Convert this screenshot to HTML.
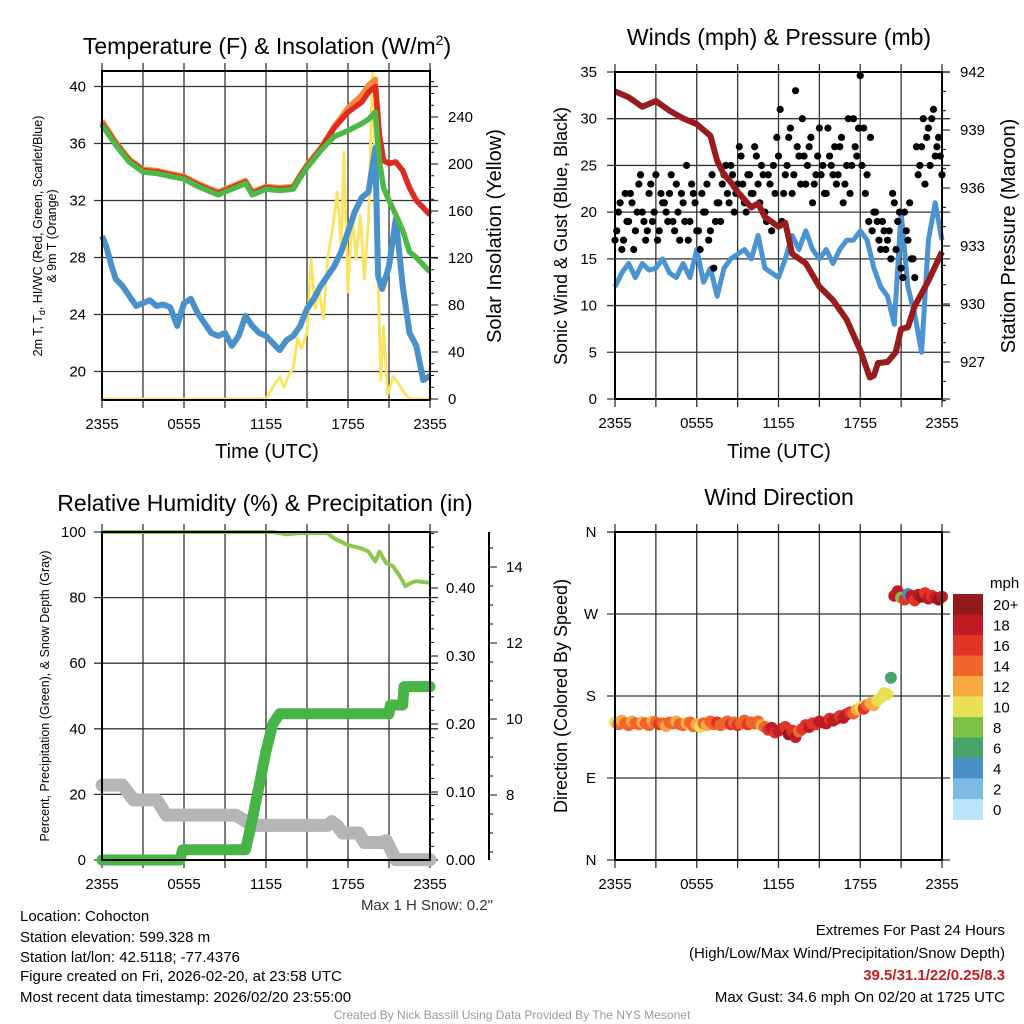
<!DOCTYPE html>
<html><head><meta charset="utf-8"><style>
html,body{margin:0;padding:0;background:#fff;}
svg{display:block;font-family:"Liberation Sans",sans-serif;}
</style></head><body>
<svg id="chart" width="1024" height="1024" viewBox="0 0 1024 1024" xmlns="http://www.w3.org/2000/svg">
<rect x="0" y="0" width="1024" height="1024" fill="#fff"/>
<text x="267" y="54" font-size="23" text-anchor="middle">Temperature (F) &amp; Insolation (W/m<tspan font-size="14" dy="-9">2</tspan><tspan dy="9">)</tspan></text>
<text x="779" y="45" font-size="23" text-anchor="middle">Winds (mph) &amp; Pressure (mb)</text>
<text x="265" y="511" font-size="23" text-anchor="middle">Relative Humidity (%) &amp; Precipitation (in)</text>
<text x="779" y="505" font-size="23" text-anchor="middle">Wind Direction</text>
<text transform="translate(42,236) rotate(-90)" font-size="12.5" text-anchor="middle">2m T, T<tspan font-size="9" dy="3">d</tspan><tspan dy="-3">, HI/WC (Red, Green, Scarlet/Blue)</tspan></text>
<text transform="translate(56,236) rotate(-90)" font-size="12.5" text-anchor="middle">&amp; 9m T (Orange)</text>
<text transform="translate(501,236) rotate(-90)" font-size="20" text-anchor="middle">Solar Insolation (Yellow)</text>
<text x="267" y="458" font-size="20" text-anchor="middle">Time (UTC)</text>
<text transform="translate(567,236) rotate(-90)" font-size="18" text-anchor="middle">Sonic Wind &amp; Gust (Blue, Black)</text>
<text transform="translate(1015,236) rotate(-90)" font-size="20" text-anchor="middle">Station Pressure (Maroon)</text>
<text x="779" y="458" font-size="20" text-anchor="middle">Time (UTC)</text>
<text transform="translate(49,696) rotate(-90)" font-size="12.5" text-anchor="middle">Percent, Precipitation (Green), &amp; Snow Depth (Gray)</text>
<text transform="translate(567,696) rotate(-90)" font-size="18" text-anchor="middle">Direction (Colored By Speed)</text>
<g font-size="15">
<text x="20" y="921">Location: Cohocton</text>
<text x="20" y="942">Station elevation: 599.328 m</text>
<text x="20" y="962">Station lat/lon: 42.5118; -77.4376</text>
<text x="20" y="981">Figure created on Fri, 2026-02-20, at 23:58 UTC</text>
<text x="20" y="1002">Most recent data timestamp: 2026/02/20 23:55:00</text>
</g>
<text x="493" y="910" font-size="15" text-anchor="end" fill="#333">Max 1 H Snow: 0.2"</text>
<g font-size="15" text-anchor="end">
<text x="1005" y="935">Extremes For Past 24 Hours</text>
<text x="1005" y="958">(High/Low/Max Wind/Precipitation/Snow Depth)</text>
<text x="1005" y="980" fill="#c41e24" font-weight="bold">39.5/31.1/22/0.25/8.3</text>
<text x="1005" y="1002">Max Gust: 34.6 mph On 02/20 at 1725 UTC</text>
</g>
<text x="512" y="1019" font-size="12" text-anchor="middle" fill="#999">Created By Nick Bassill Using Data Provided By The NYS Mesonet</text>
<g id="layer"></g>
</svg>
<script>
var xTickLabels = ["2355","0555","1155","1755","2355"];
// Panel 1
var tempTimes = [0,1,1.5,2,3,4,5,6,7,8,8.5,9,10,10.5,11,12,13,14,14.5,15,16,17,18,19,19.5,20,20.3,20.6,21,21.5,22,22.5,23,24];
var tempRed   = [37.4,36.0,35.4,34.8,34.1,34.0,33.8,33.6,33.1,32.7,32.5,32.7,33.1,33.3,32.5,32.9,32.8,32.9,33.7,34.4,35.6,37.1,38.2,38.9,39.6,40.0,36.6,34.8,34.6,34.7,34.1,32.9,32.0,31.0];
var tempOrange= [37.6,36.1,35.5,34.9,34.2,34.1,33.9,33.7,33.2,32.8,32.6,32.8,33.2,33.4,32.6,33.0,32.9,33.0,33.8,34.5,35.7,37.2,38.5,39.4,40.1,40.5,36.6,34.8,34.6,34.7,34.1,32.9,32.0,31.0];
var tempGreen = [37.3,35.9,35.3,34.7,34.0,33.9,33.7,33.5,33.0,32.6,32.4,32.6,33.0,33.2,32.4,32.8,32.7,32.8,33.6,34.3,35.5,36.5,36.9,37.4,37.7,38.2,34.8,32.9,32.0,31.0,29.9,28.4,28.0,27.0];
var chillTimes = [0,0.3,0.7,1,1.5,2,2.5,3,3.5,4,4.5,5,5.5,6,6.5,7,7.5,8,8.5,9,9.5,10,10.5,11,11.5,12,12.5,13,13.5,14,14.5,15,15.5,16,16.5,17,17.5,18,18.5,19,19.5,20,20.2,20.5,21,21.5,22,22.5,23,23.5,24];
var chillBlue  = [29.5,28.8,27.4,26.5,26.0,25.3,24.6,24.8,25.0,24.6,24.7,24.5,23.2,24.8,25.1,24.1,23.4,22.7,22.5,22.7,21.8,22.5,23.9,23.2,22.7,22.5,22.0,21.5,22.2,22.5,23.2,24.4,25.1,26.0,26.7,27.4,28.4,29.8,31.2,32.2,32.6,35.7,26.7,25.8,27.4,30.7,26.0,22.7,21.8,19.4,19.7];
var solarTimes = [0,12,12.5,13,13.3,13.7,14,14.3,14.6,15,15.3,15.6,15.9,16.2,16.5,16.9,17.2,17.5,17.7,18,18.3,18.6,18.9,19.2,19.5,19.8,20.1,20.4,20.6,20.9,21.3,21.7,22.2,22.5,24];
var solarVals  = [0,0,10,19,10,21,26,52,43,57,119,77,91,68,119,147,176,130,210,91,159,119,156,102,153,278,147,16,62,4,19,13,4,0,0];
var tempTicks = [20,24,28,32,36,40];
var solarTicks = [0,40,80,120,160,200,240];
// Panel 2
var windTimes = [0,0.5,1,1.5,2,2.5,3,3.5,4,4.5,5,5.5,6,6.5,7,7.5,8,8.5,9,9.5,10,10.5,11,11.5,12,12.5,13,13.5,14,14.5,15,15.5,16,16.5,17,17.5,18,18.5,19,19.5,20,20.5,21,21.5,22,22.5,23,23.5,24];
var windSpeed = [12,13.5,14.5,13,14.5,13.8,14,15,13.5,13,14.5,13,16,12.5,14,11,14,15,15.5,16,15,17.5,14,13.5,13,15,17.5,16,18,16,15,16,14.5,16,17,17,18,17,14,12,11,8,20,12,9,5,17,21,17];
var gustValues = [17,20,16,22,19,21,18,23,20, 17,22,19,24,18,21,20,22, 19,23,17,21,25,19,22,18, 16,20,23,18,14,21,19,24, 22,25,20,23,26,21,24,22, 27,23,25,20,24,18,22,26, 19,24,28,22,33,26,30,23, 27,21,24,29,25,22,26,24, 23,27,21,25,22,30,26,34.6, 29,24,28,20,19,16,18,17, 15,21,19,14,20,17,15,13, 24,27,23,29,30,26,28,24];
var gustValuesB = [18,21,17,19,22,16,20,24, 19,18,23,20,17,22,21,19, 24,18,20,22,19,17,23,21, 18,22,20,17,24,19,21,23, 25,21,24,22,27,23,20,24, 22,26,21,24,19,23,25,28, 31,22,25,29,24,27,23,26, 25,28,23,26,24,22,29,25, 27,24,28,23,30,25,27,29, 25,22,19,18,20,17,19,16, 18,22,16,20,13,18,21,15, 27,25,30,28,25,31,27,26];
var presTimes = [0,1,2,3,4,5,6,7,7.5,8,8.5,9,10,10.5,11,12,12.5,13,14,15,16,17,18,18.7,19,19.3,20,20.6,21,21.5,22,23,24];
var presVals  = [941.0,940.7,940.2,940.5,940.0,939.6,939.3,938.7,937.4,936.7,936.3,935.8,935.0,935.2,934.5,934.0,934.2,932.6,932.1,930.9,930.2,929.2,927.6,926.2,926.3,926.95,927.0,927.5,928.7,928.8,929.9,931.2,932.7];
var windTicks = [0,5,10,15,20,25,30,35];
var presTicks = [927,930,933,936,939,942];
// Panel 3
var rhTimes = [0,12.5,13.5,14.5,16.5,17,17.5,18,19,19.5,20,20.3,20.8,21.3,21.8,22.2,22.6,23,24];
var rhVals  = [100,100,99.3,99.7,99.7,98,97,96,95,94,91,94,90.5,89.5,86.5,83.5,84.5,85,84.5];
var precipTimes = [0,5.7,5.9,10.5,11,11.5,12,12.5,13,21,21.1,22,22.1,24];
var precipVals  = [0,0,0.015,0.015,0.06,0.11,0.16,0.20,0.215,0.215,0.228,0.228,0.255,0.255];
var snowTimes = [0,1.5,2.3,4,4.7,9.8,11,16.5,16.8,17.2,17.6,18.8,19.2,20.5,20.8,21.5,24];
var snowVals  = [8.26,8.26,7.87,7.87,7.47,7.47,7.2,7.2,7.3,7.2,7.0,7.0,6.75,6.75,6.8,6.3,6.3];
var rhTicks = [0,20,40,60,80,100];
var precipTicks = [0,0.1,0.2,0.3,0.4];
var precipTickLabels = ["0.00","0.10","0.20","0.30","0.40"];
var snowTicks = [8,10,12,14];
// Panel 4
var dirValues = [151,149,153,150,148,152,150,149,151, 150,148,152,151,149,150,147,151, 150,152,149,148,150,151,147,149, 146,150,148,152,149,151,148,150, 152,149,151,148,150,153,149,151, 150,152,148,146,143,145,140,142, 144,146,138,142,135,141,144,148, 146,150,149,152,151,150,155,153, 155,158,156,160,162,161,165,168, 166,170,172,170,175,178,183,182, 200,290,295,288,286,292,290,285, 291,289,293,287,290,288,286,289];
var dirSpeeds = [11,14,13,15,14,12,15,14,13, 14,15,13,14,16,14,13,15, 14,13,15,14,12,15,14,13, 11,14,12,15,14,16,15,14, 15,16,14,17,15,14,16,15, 15,14,13,15,16,18,17,18, 19,17,20,16,18,15,17,16, 18,17,16,18,19,18,17,19, 18,17,19,18,16,14,12,11, 16,15,13,12,11,10,11,10, 7,19,18,9,17,5,19,16, 18,20,17,19,16,18,20,19];
var dirTicks = [0,90,180,270,360];
var dirTickLabels = ["N","E","S","W","N"];
var speedBins = ["0","2","4","6","8","10","12","14","16","18","20+"];
var speedColors = ["#b9e3f9","#7db9e5","#4a8ec7","#49a46c","#7cc247","#e8e157","#f7a943","#f0652a","#e03427","#c11c25","#921a1c"];

var NS="http://www.w3.org/2000/svg";
var layer=document.getElementById("layer");
function mk(tag,attrs,parent){var e=document.createElementNS(NS,tag);for(var k in attrs)e.setAttribute(k,attrs[k]);(parent||layer).appendChild(e);return e;}
function txt(s,x,y,size,anchor,parent){var e=mk("text",{x:x,y:y,"font-size":size,"text-anchor":anchor},parent);e.textContent=s;return e;}
function linePath(ts,vs,fx,fy){var d="";for(var i=0;i<ts.length;i++){d+=(i?"L":"M")+fx(ts[i]).toFixed(1)+" "+fy(vs[i]).toFixed(1);}return d;}
function stepTime(i,total){return i*24/(total-1);}

function frame(name,L,T,R,B,xf){
  var g=mk("g",{});
  
  
  for(var h=0;h<=24;h+=3){var x=xf(h);mk("line",{x1:x,y1:T-8,x2:x,y2:B+8,stroke:"#333","stroke-width":1.3},g);}
  var lb=mk("g",{});
  
  
  for(var i=0;i<xTickLabels.length;i++){txt(xTickLabels[i],xf(i*6),B+29,15,"middle",lb);}
  return g;
}
function hgrid(g,ys,L,R){for(var i=0;i<ys.length;i++){mk("line",{x1:L-8,y1:ys[i],x2:R+8,y2:ys[i],stroke:"#333","stroke-width":1.3},g);}}
function box(name,L,T,R,B){var r=mk("rect",{x:L,y:T,width:R-L,height:B-T,fill:"none",stroke:"#000","stroke-width":2});}

(function(){
  var L=102,T=71,R=430,B=400;
  var x=function(t){return L+t*(R-L)/24;};
  var yT=function(v){return 400-(v-18)*14.25;};
  var yS=function(v){return 399-v*1.175;};
  var g=frame("temperature",L,T,R,B,x);
  hgrid(g,tempTicks.map(yT),L,R);
  var ax=mk("g",{});
  
  
  tempTicks.forEach(function(v){txt(String(v),86,yT(v)+5,15,"end",ax);});
  var ax2=mk("g",{});
  
  
  solarTicks.forEach(function(v){txt(String(v),448,yS(v)+5,15,"start",ax2);});
  for(var w=0;w<=270;w+=10){var yy=yS(w);mk("line",{x1:R,y1:yy,x2:R+(w%40==0?8:4),y2:yy,stroke:"#000","stroke-width":1},ax2);}
  var s;
  s=mk("path",{d:linePath(solarTimes,solarVals,x,yS),fill:"none",stroke:"#fbe35f","stroke-width":2.8,"stroke-linejoin":"round"});
  
  
  s=mk("path",{d:linePath(chillTimes,chillBlue,x,yT),fill:"none",stroke:"#4a90cb","stroke-width":6,"stroke-linejoin":"round"});
  
  
  s=mk("path",{d:linePath(tempTimes,tempOrange,x,yT),fill:"none",stroke:"#f58a36","stroke-width":5.5,"stroke-linejoin":"round"});
  
  
  s=mk("path",{d:linePath(tempTimes,tempRed,x,yT),fill:"none",stroke:"#dd2a22","stroke-width":5.5,"stroke-linejoin":"round"});
  
  
  s=mk("path",{d:linePath(tempTimes,tempGreen,x,yT),fill:"none",stroke:"#4db847","stroke-width":5.5,"stroke-linejoin":"round"});
  
  
  box("temperature",L,T,R,B);
})();

(function(){
  var L=615,T=72,R=942,B=399;
  var x=function(t){return L+t*(R-L)/24;};
  var yW=function(v){return 399-v*9.343;};
  var yP=function(p){return 362-(p-927)*19.33;};
  var g=frame("winds",L,T,R,B,x);
  hgrid(g,windTicks.map(yW),L,R);
  var ax=mk("g",{});
  
  
  windTicks.forEach(function(v){txt(String(v),597,yW(v)+5,15,"end",ax);});
  var ax2=mk("g",{});
  
  
  presTicks.forEach(function(v){txt(String(v),960,yP(v)+5,15,"start",ax2);});
  for(var p=925;p<=943;p++){var yy=yP(p);if(yy<T-1)continue;mk("line",{x1:R,y1:yy,x2:R+(p%3==0?8:4),y2:yy,stroke:"#000","stroke-width":1},ax2);}
  var s=mk("path",{d:linePath(windTimes,windSpeed,x,yW),fill:"none",stroke:"#4b94d1","stroke-width":5,"stroke-linejoin":"round"});
  
  
  var gg=mk("g",{});
  
  
  for(var i=0;i<gustValues.length;i++){
    var c=mk("circle",{cx:x(stepTime(i,gustValues.length)),cy:yW(gustValues[i]),r:3.6,fill:"#000"},gg);
    
    
  }
  for(var j=0;j<gustValuesB.length;j++){
    var c2=mk("circle",{cx:x(j*0.25+0.125),cy:yW(gustValuesB[j]),r:3.6,fill:"#000"},gg);
    
    
  }
  s=mk("path",{d:linePath(presTimes,presVals,x,yP),fill:"none",stroke:"#9a1b1e","stroke-width":6,"stroke-linejoin":"round"});
  
  
  box("winds",L,T,R,B);
})();

(function(){
  var L=102,T=532,R=430,B=860;
  var x=function(t){return L+t*(R-L)/24;};
  var yR=function(v){return 860-v*3.28;};
  var yPr=function(v){return 860-v*680;};
  var ySn=function(v){return 795-(v-8)*38;};
  var g=frame("humidity",L,T,R,B,x);
  hgrid(g,rhTicks.map(yR),L,R);
  var ax=mk("g",{});
  
  
  rhTicks.forEach(function(v){txt(String(v),86,yR(v)+5,15,"end",ax);});
  var ax2=mk("g",{});
  
  
  precipTicks.forEach(function(v,i){txt(precipTickLabels[i],446,yPr(v)+5,15,"start",ax2);});
  for(var k=0;k<=24;k++){var yy=yPr(k*0.02);if(yy<T)break;mk("line",{x1:R,y1:yy,x2:R+(k%5==0?8:4),y2:yy,stroke:"#000","stroke-width":1},ax2);}
  var ax3=mk("g",{});
  
  
  mk("line",{x1:489,y1:T,x2:489,y2:B,stroke:"#000","stroke-width":2},ax3);
  for(var sv=6.5;sv<=14.9;sv+=0.5){var y3=ySn(sv);if(y3<T||y3>B)continue;mk("line",{x1:489,y1:y3,x2:489+(sv%2==0?8:4),y2:y3,stroke:"#000","stroke-width":1},ax3);}
  snowTicks.forEach(function(v){txt(String(v),506,ySn(v)+5,15,"start",ax3);});
  var s=mk("path",{d:linePath(snowTimes,snowVals,x,ySn),fill:"none",stroke:"#b5b5b5","stroke-width":13,"stroke-linejoin":"round","stroke-linecap":"round"});
  
  
  s=mk("path",{d:linePath(precipTimes,precipVals,x,yPr),fill:"none",stroke:"#48b447","stroke-width":11,"stroke-linejoin":"round","stroke-linecap":"round"});
  
  
  s=mk("path",{d:linePath(rhTimes,rhVals,x,yR),fill:"none",stroke:"#8cc84b","stroke-width":4,"stroke-linejoin":"round"});
  
  
  box("humidity",L,T,R,B);
})();

(function(){
  var L=615,T=532,R=942,B=860;
  var x=function(t){return L+t*(R-L)/24;};
  var yD=function(d){return 860-d*0.911;};
  var g=frame("direction",L,T,R,B,x);
  hgrid(g,dirTicks.map(yD),L,R);
  var ax=mk("g",{});
  
  
  dirTicks.forEach(function(v,i){txt(dirTickLabels[i],591,yD(v)+5,15,"middle",ax);});
  var gg=mk("g",{});
  
  
  for(var i=0;i<dirValues.length;i++){
    var b=Math.min(10,Math.max(0,Math.floor(dirSpeeds[i]/2)));
    var c=mk("circle",{cx:x(stepTime(i,dirValues.length)),cy:yD(dirValues[i]),r:6,fill:speedColors[b]},gg);
    
    
  }
  box("direction",L,T,R,B);
  var lg=mk("g",{});
  
  
  txt("mph",990,588,15,"start",lg);
  var top=594,h=20.5;
  for(var k=0;k<speedBins.length;k++){
    var idx=speedBins.length-1-k;
    mk("rect",{x:953,y:top+k*h,width:30,height:h+0.5,fill:speedColors[idx]},lg);
    txt(speedBins[idx],993,top+k*h+16,15,"start",lg);
  }
})();
</script>
</body></html>
